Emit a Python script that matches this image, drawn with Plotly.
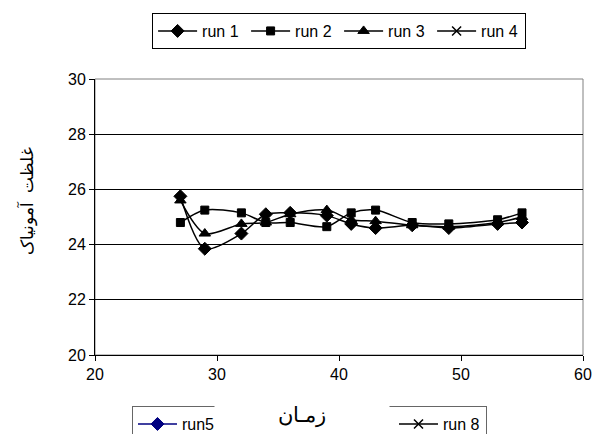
import plotly.graph_objects as go

time = [27, 29, 32, 34, 36, 39, 41, 43, 46, 49, 53, 55]
run1 = [25.75, 23.85, 24.4, 25.1, 25.15, 25.05, 24.75, 24.6, 24.7, 24.6, 24.75, 24.8]
run2 = [24.8, 25.25, 25.15, 24.8, 24.8, 24.65, 25.15, 25.25, 24.8, 24.75, 24.9, 25.15]
run3 = [25.6, 24.4, 24.75, 24.8, 25.1, 25.25, 24.9, 24.85, 24.7, 24.65, 24.8, 25.0]
# runs without visible readings in the chart (legend entries only)
run4 = [None] * len(time)
run5 = [None] * len(time)
run8 = [None] * len(time)

x_ticks = [20, 30, 40, 50, 60]
y_ticks = [20, 22, 24, 26, 28, 30]

font = "Liberation Sans, Arial, sans-serif"
fig = go.Figure()

def add(name, ys, symbol, color, legend, size=9, lw=1, lwidth=None):
    fig.add_trace(go.Scatter(
        x=time, y=ys, name=name, mode="lines+markers",
        line=dict(color=color, width=1.5, shape="spline", smoothing=0.8),
        marker=dict(symbol=symbol, size=size, color=color,
                    line=dict(color=color, width=lw)),
        legend=legend, legendwidth=lwidth,
    ))

add("run 1", run1, "diamond", "black", "legend", 10)
add("run 2", run2, "square", "black", "legend", 8)
add("run 3", run3, "triangle-up", "black", "legend", 10)
add("run 4", run4, "x-thin", "black", "legend", 9, 1.5)
add("run5", run5, "diamond", "#000080", "legend2", 10, 1, 207)
add("run 8", run8, "x-thin", "black", "legend2", 9, 1.5, 38)

fig.update_layout(
    width=595, height=434,
    margin=dict(l=95, r=12, t=79, b=79, autoexpand=False),
    paper_bgcolor="white", plot_bgcolor="white",
    font=dict(family=font, size=16, color="black"),
    showlegend=True,
    legend=dict(
        orientation="h", x=0.117, xanchor="left", y=1.239, yanchor="top",
        bordercolor="black", borderwidth=1, bgcolor="white",
        font=dict(size=16), itemwidth=39, entrywidth=39, entrywidthmode="pixels",
    ),
    legend2=dict(
        orientation="h", x=0.0758, xanchor="left", y=-0.185, yanchor="top",
        bordercolor="#666666", borderwidth=1, bgcolor="white",
        font=dict(size=16), itemwidth=39,
    ),
    xaxis=dict(
        range=[20, 60], tickvals=x_ticks, showgrid=False, zeroline=False,
        showline=True, linecolor="black", linewidth=1,
        ticks="outside", ticklen=5, tickcolor="black",
        tickfont=dict(size=16),
    ),
    yaxis=dict(
        range=[20, 30], tickvals=y_ticks, showgrid=True, gridcolor="black",
        gridwidth=1, zeroline=False,
        showline=True, linecolor="black", linewidth=1,
        ticks="outside", ticklen=5, tickcolor="black",
        tickfont=dict(size=16),
    ),
    shapes=[dict(
        type="rect", xref="paper", yref="paper", x0=0, x1=1, y0=0, y1=1,
        line=dict(color="#808080", width=1), layer="below",
    )],
    annotations=[
        dict(
            text="زمـان", xref="paper", yref="paper", x=0.424, y=-0.165,
            xanchor="center", yanchor="top", valign="top", showarrow=False,
            font=dict(size=21, family=font), bgcolor="white",
            width=172, height=50,
        ),
        dict(
            text="غلظت  آمونیاک", xref="paper", yref="paper", x=-0.139, y=0.558,
            xanchor="center", yanchor="middle", showarrow=False, textangle=-90,
            font=dict(size=17, family=font),
        ),
    ],
)

fig.write_html(
    "out.html",
    config={"displayModeBar": False},
    post_script="document.body.style.margin='0';document.body.style.overflow='hidden';",
)
